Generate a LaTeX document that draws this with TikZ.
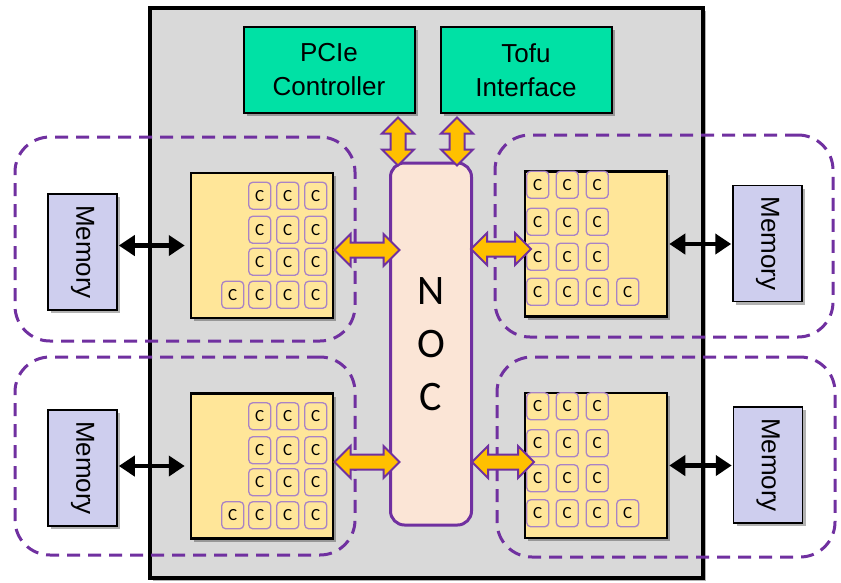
\documentclass[tikz,border=0pt]{standalone}
\usepackage{fontspec}
\setmainfont{Liberation Sans}
\newfontfamily\corefont{Carlito}
\usetikzlibrary{arrows.meta,positioning,calc,shapes.arrows,shadows}
\definecolor{chipgray}{RGB}{217,217,217}
\definecolor{ctrlgreen}{RGB}{0,225,165}
\definecolor{coreyellow}{RGB}{255,230,153}
\definecolor{memblue}{RGB}{206,206,238}
\definecolor{nocpeach}{RGB}{251,229,214}
\definecolor{nocpurple}{RGB}{112,48,160}
\definecolor{linkorange}{RGB}{255,192,0}

\begin{document}
\begin{tikzpicture}[x=1pt, y=-1pt,
  shd/.style={drop shadow={shadow xshift=3pt, shadow yshift=-3pt, fill=black, opacity=0.3}},
  chip/.style={draw, line width=4pt, fill=chipgray, minimum width=553, minimum height=570, shd},
  region/.style={draw=nocpurple, line width=3pt, dash pattern=on 13pt off 8pt, rounded corners=35pt},
  ctrl/.style={draw, line width=2pt, fill=ctrlgreen, minimum width=171, minimum height=86, align=center, font=\fontsize{26}{34}\selectfont, shd},
  cgroup/.style={draw, line width=2.5pt, fill=coreyellow, minimum width=142, minimum height=145, shd},
  core/.style={draw=nocpurple!60, line width=1.3pt, fill=coreyellow, rounded corners=4pt, minimum width=22, minimum height=27, inner sep=0pt, font=\corefont\fontsize{17}{17}\selectfont},
  mem/.style={draw, line width=1.5pt, fill=memblue, minimum width=69, minimum height=116, font=\fontsize{26}{26}\selectfont, shd},
  noc/.style={draw=nocpurple, line width=3pt, fill=nocpeach, rounded corners=14pt, minimum width=81, minimum height=362, align=center, font=\corefont\fontsize{42}{53}\selectfont},
  fatarr/.style={double arrow, draw=nocpurple, line width=2pt, fill=linkorange, inner xsep=0pt, inner ysep=6.5pt, minimum width=30, double arrow head extend=8.5pt},
  memlink/.style={{Triangle[width=20pt,length=16pt]}-{Triangle[width=20pt,length=16pt]}, line width=4.5pt}
]
  \useasboundingbox (0,0) rectangle (841,582);
  \node[chip] (chip) at (426.5,293) {};

  % dashed memory domains
  \node[region, minimum width=340, minimum height=204] (domTL) at (185,239) {};
  \node[region, minimum width=338, minimum height=202] (domTR) at (664,236) {};
  \node[region, minimum width=340, minimum height=198] (domBL) at (185,456) {};
  \node[region, minimum width=338, minimum height=200] (domBR) at (666,457) {};

  \node[ctrl] (pcie) at (329,70) {PCIe\\Controller};
  \node[ctrl] (tofu) at (526,70) {Tofu\\Interface};

  \node[cgroup] (coreTL) at (262,245.5) {};
  \node[cgroup] (coreTR) at (596,244) {};
  \node[cgroup] (coreBL) at (262,466) {};
  \node[cgroup] (coreBR) at (596,465.5) {};

  % cores
  \foreach \g in {coreTL,coreBL}{
    \foreach \dy [count=\r] in {24,58,90,123}
      \foreach \dx [count=\c] in {70,98,126}
        \node[core] (\g-\r\c) at ($(\g.north west)+(\dx,\dy)$) {C};
    \node[core] (\g-x) at ($(\g.north west)+(43,123)$) {C};
  }
  \foreach \g in {coreTR,coreBR}{
    \foreach \dy [count=\r] in {14.5,51.5,86.5,121.5}
      \foreach \dx [count=\c] in {14,43.5,73.5}
        \node[core] (\g-\r\c) at ($(\g.north west)+(\dx,\dy)$) {C};
    \node[core] (\g-x) at ($(\g.north west)+(104,121.5)$) {C};
  }

  \node[mem] (memTL) at (82.5,252) {\rotatebox{-90}{Memory}};
  \node[mem] (memTR) at (767.5,243.5) {\rotatebox{-90}{Memory}};
  \node[mem] (memBL) at (82.5,468) {\rotatebox{-90}{Memory}};
  \node[mem] (memBR) at (768,465) {\rotatebox{-90}{Memory}};

  \node[noc] (noc) at (431,344) {N\\O\\C};

  % NOC links
  \node[fatarr, minimum height=48, rotate=90] (lnkP) at (398,141.5) {};
  \node[fatarr, minimum height=48, rotate=90] (lnkT) at (457,141.5) {};
  \node[fatarr, minimum height=65] (lnkTL) at (367,250) {};
  \node[fatarr, minimum height=60] (lnkTR) at (501,249) {};
  \node[fatarr, minimum height=65] (lnkBL) at (367,462) {};
  \node[fatarr, minimum height=62] (lnkBR) at (503,462) {};

  % memory links
  \draw[memlink, shorten >=5pt, shorten <=1pt] (coreTL.west -| memTL.east) -- (coreTL.west);
  \draw[memlink, shorten >=5pt, shorten <=1pt] (coreBL.west -| memBL.east) -- (coreBL.west);
  \draw[memlink, shorten <=1pt, shorten >=1pt] (coreTR.east) -- (coreTR.east -| memTR.west);
  \draw[memlink, shorten <=1pt, shorten >=1pt] (coreBR.east) -- (coreBR.east -| memBR.west);
\end{tikzpicture}
\end{document}
